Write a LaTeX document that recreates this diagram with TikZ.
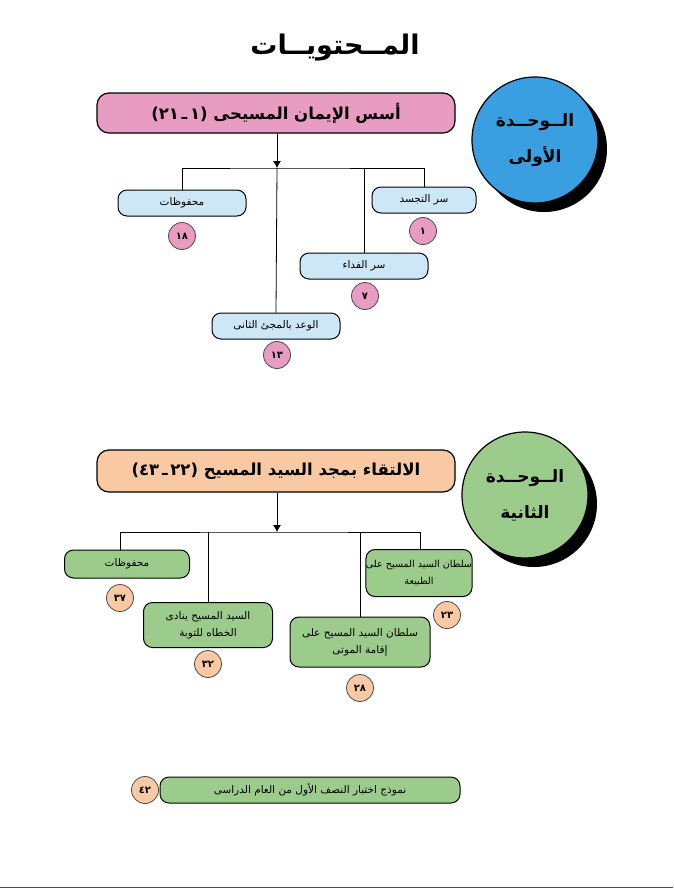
\documentclass[tikz,border=0pt]{standalone}
\usepackage{fontspec}
\usetikzlibrary{arrows.meta}
\TeXXeTstate=1
\newfontfamily\arabicfont[Script=Arabic]{DejaVu Sans}
\newfontfamily\plainfont{DejaVu Sans}
\definecolor{cblue}{HTML}{3A9FE0}
\definecolor{cpink}{HTML}{E89CC2}
\definecolor{clight}{HTML}{CDE7F6}
\definecolor{cgreen}{HTML}{9CCC8C}
\definecolor{corange}{HTML}{F8C9A2}
\tikzset{
 mainbox/.style={draw=black,line width=1.2pt,rounded corners=12pt,inner sep=0pt,font=\arabicfont\bfseries\fontsize{16.5}{19}\selectfont},
 subbox/.style={draw=black,line width=1pt,rounded corners=9pt,inner sep=0pt,align=center,font=\arabicfont\fontsize{10.5}{17}\selectfont},
 numc/.style={circle,draw=black!70,line width=0.8pt,minimum size=27pt,inner sep=0pt,font=\arabicfont\bfseries\fontsize{10}{11}\selectfont},
 unitc/.style={circle,draw=black,line width=1.2pt,minimum size=126pt,inner sep=0pt,align=center,font=\arabicfont\bfseries\fontsize{17}{36}\selectfont},
 conn/.style={line width=0.8pt},
}
\newcommand{\R}[1]{\beginR #1\endR}
\newcommand{\rng}[2]{\beginL\hbox{\plainfont\bfseries(}\hbox{#1}\hbox{\,ـ\,}\hbox{#2}\hbox{\plainfont\bfseries)}\endL}
\begin{document}
\begin{tikzpicture}[x=1pt,y=-1pt]
\useasboundingbox (0,0) rectangle (673,895);
\node (title) at (335,48) {\arabicfont\bfseries\fontsize{27}{30}\selectfont\R{المــحتويــات}};
% unit 1
\fill[black] (544,149) circle (63);
\node[unitc,fill=cblue] (u1) at (535,140) {\R{الــوحــدة}\\\R{الأولى}};
\node[mainbox,fill=cpink,minimum width=358pt,minimum height=40pt] (m1) at (276,113) {\rng{٢١}{١}\ \R{أسس الإيمان المسيحى}};
\coordinate (j1) at (277,168);
\draw[conn,-{Latex[length=7pt,width=8pt]}] (m1.south -| j1) -- (j1);
\node[subbox,fill=clight,minimum width=128pt,minimum height=26pt] (a1) at (182,203) {\R{محفوظات}};
\node[subbox,fill=clight,minimum width=104pt,minimum height=26pt] (a2) at (424,200) {\R{سر التجسد}};
\node[subbox,fill=clight,minimum width=128pt,minimum height=26pt] (a3) at (364,266) {\R{سر الفداء}};
\node[subbox,fill=clight,minimum width=128pt,minimum height=26pt] (a4) at (276,326) {\R{الوعد بالمجئ الثانى}};
\draw[conn] (a1.north) |- (j1) -| (a2.north);
\draw[conn] (a3.north) -- (a3.north |- j1);
\draw[conn] (a4.north) -- (j1);
\node[numc,fill=cpink] (n1) at (182,236) {١٨};
\node[numc,fill=cpink] (n2) at (423,231) {١};
\node[numc,fill=cpink] (n3) at (365,296) {٧};
\node[numc,fill=cpink] (n4) at (277,355) {١٣};
% unit 2
\fill[black] (534,504) circle (63);
\node[unitc,fill=cgreen] (u2) at (525,495) {\R{الــوحــدة}\\\R{الثانية}};
\node[mainbox,fill=corange,minimum width=358pt,minimum height=42pt] (m2) at (276,471) {\rng{٤٣}{٢٢}\ \R{الالتقاء بمجد السيد المسيح}};
\coordinate (j2) at (277,532);
\draw[conn,-{Latex[length=7pt,width=8pt]}] (m2.south -| j2) -- (j2);
\node[subbox,fill=cgreen,minimum width=125pt,minimum height=28pt] (b1) at (127,564) {\R{محفوظات}};
\node[subbox,fill=cgreen,minimum width=106pt,minimum height=47pt,font=\arabicfont\fontsize{9.6}{17}\selectfont] (b2) at (419,573) {\R{سلطان السيد المسيح على}\\\R{الطبيعة}};
\node[subbox,fill=cgreen,minimum width=140pt,minimum height=50pt] (b3) at (360,642) {\R{سلطان السيد المسيح على}\\\R{إقامة الموتى}};
\node[subbox,fill=cgreen,minimum width=129pt,minimum height=45pt] (b4) at (208,625) {\R{السيد المسيح ينادى}\\\R{الخطاه للتوبة}};
\draw[conn] (b1.north -| 120,0) |- (j2) -| (b2.north -| 420,0);
\draw[conn] (b4.north) -- (b4.north |- j2);
\draw[conn] (b3.north) -- (b3.north |- j2);
\node[numc,fill=corange] (p1) at (120,598) {٣٧};
\node[numc,fill=corange] (p2) at (447,615) {٢٣};
\node[numc,fill=corange] (p3) at (360,688) {٢٨};
\node[numc,fill=corange] (p4) at (208,664) {٣٢};
% bottom
\node[subbox,fill=cgreen,minimum width=300pt,minimum height=26pt] (c1) at (310,790) {\R{نموذج اختبار النصف الأول من العام الدراسى}};
\node[numc,fill=corange] (c2) at (145,790) {٤٢};
\draw[black!70,line width=1pt] (0,887) -- (673,887);
\end{tikzpicture}
\end{document}
